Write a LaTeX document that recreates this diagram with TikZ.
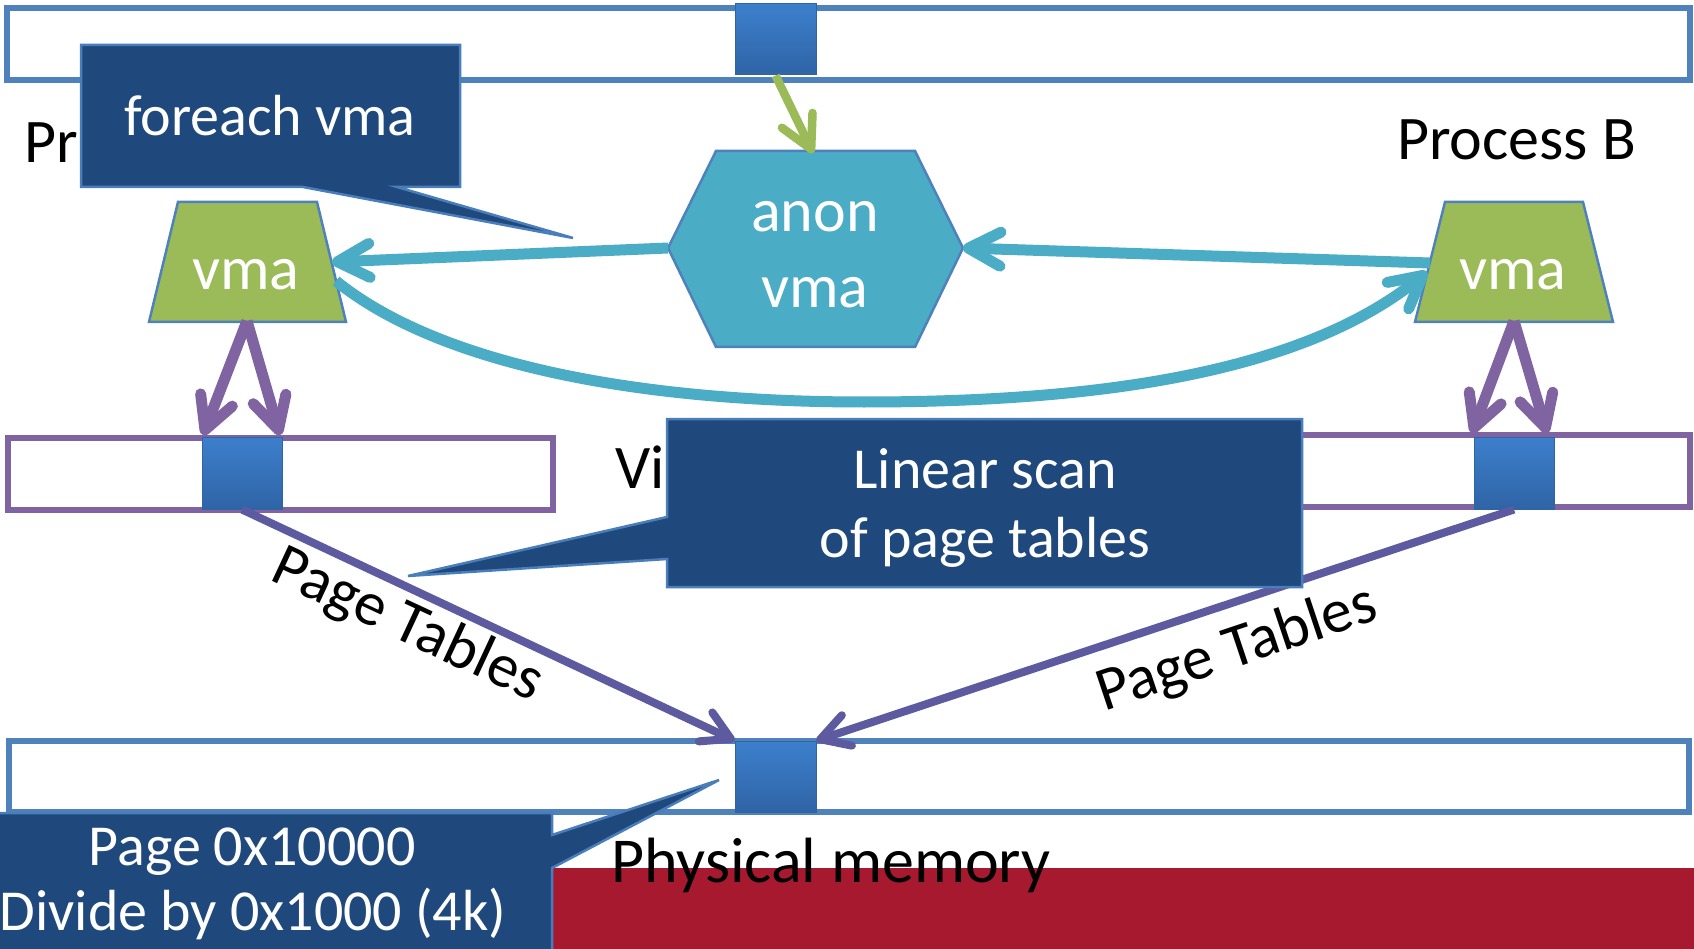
\documentclass[tikz,border=0pt]{standalone}
\usepackage{fontspec}
\setmainfont{Carlito}
\usetikzlibrary{arrows.meta}
\definecolor{barblue}{HTML}{4F81BD}
\definecolor{calfill}{HTML}{1F497D}
\definecolor{caledge}{HTML}{4A7EBB}
\definecolor{vmagreen}{HTML}{9BBB59}
\definecolor{anoncyan}{HTML}{4BACC6}
\definecolor{ptpurple}{HTML}{8064A2}
\definecolor{ptdark}{HTML}{5D5A9F}
\definecolor{memred}{HTML}{A6192E}
\definecolor{sqtop}{HTML}{3D7FCC}
\definecolor{sqbot}{HTML}{2F64A6}
\newcommand\myFontL{\fontsize{62}{75}\selectfont}
\newcommand\myFontC{\fontsize{58}{70}\selectfont}
\newcommand\myFontP{\fontsize{64}{77}\selectfont}
\tikzset{
  membar/.style={draw=barblue, line width=6pt, fill=white},
  vbar/.style={draw=ptpurple, line width=6pt, fill=white},
  pagesq/.style={top color=sqtop, bottom color=sqbot, draw=sqbot, line width=1pt, inner sep=0pt, minimum width=80pt, minimum height=72pt},
  shapeedge/.style={draw=barblue, line width=2.5pt},
  callout/.style={fill=calfill, draw=caledge, line width=2.5pt, line join=miter},
  wtext/.style={text=white, inner sep=0pt},
  btext/.style={text=black, inner sep=0pt},
  barbtip/.style={-{Straight Barb[length=32pt,width=34pt,round]}},
  cyanarrow/.style={draw=anoncyan, line width=11pt, barbtip},
  purplearrow/.style={draw=ptpurple, line width=11pt, barbtip},
  ptline/.style={draw=ptdark, line width=8pt, -{Straight Barb[length=28pt,width=32pt,round]}},
  greenarrow/.style={draw=vmagreen, line width=8.5pt, barbtip},
}
\begin{document}
\begin{tikzpicture}[x=1pt,y=-1pt]
\clip (0,0) rectangle (1694,949);
\fill[white] (0,0) rectangle (1694,949);

% red band
\fill[memred] (552,868) rectangle (1694,949);

% memory bars
\draw[membar] (7,8) rectangle (1690,80);
\draw[vbar] (8,438) rectangle (553,510);
\draw[vbar] (1145,435) rectangle (1690,507);
\draw[membar] (9,741) rectangle (1689,812);

% pages
\node[pagesq, minimum width=81pt, minimum height=71pt] (topsq) at (775.5,39.5) {};
\node[pagesq] (leftsq) at (242,473) {};
\node[pagesq] (rightsq) at (1514,473) {};
\node[pagesq, minimum width=81pt, minimum height=71pt] (botsq) at (775.5,776.5) {};

% vma shapes
\fill[vmagreen] (178,202) -- (317,202) -- (346,322) -- (149,322) -- cycle;
\draw[shapeedge] (178,202) -- (317,202) -- (346,322) -- (149,322) -- cycle;
\fill[vmagreen] (1445,202) -- (1583,202) -- (1613,322) -- (1415,322) -- cycle;
\draw[shapeedge] (1445,202) -- (1583,202) -- (1613,322) -- (1415,322) -- cycle;
\fill[anoncyan] (668,248) -- (716,151) -- (915,151) -- (963,248) -- (915,347) -- (716,347) -- cycle;
\draw[shapeedge] (668,248) -- (716,151) -- (915,151) -- (963,248) -- (915,347) -- (716,347) -- cycle;

\node[wtext, anchor=base, font=\myFontL] (vmaA) at (246,290) {vma};
\node[wtext, anchor=base, font=\myFontL] (vmaB) at (1513,290) {vma};
\node[wtext, anchor=base, font=\myFontL] (anon1) at (815,232) {anon};
\node[wtext, anchor=base, font=\myFontL] (anon2) at (815,308) {vma};

% connector end points
\coordinate (hexL) at (668,248);
\coordinate (hexR) at (963,248);
\coordinate (hexT) at (813,153);
\coordinate (vmaAr) at (332,262);
\coordinate (vmaAc) at (336,281);
\coordinate (vmaBl) at (1430,263);
\coordinate (vmaBc) at (1427,272);
\coordinate (vmaAb) at (247,321);
\coordinate (vmaBb) at (1514,321);
\coordinate (lsq1) at (203,435);
\coordinate (lsq2) at (280,435);
\coordinate (rsq1) at (1472,433);
\coordinate (rsq2) at (1547,433);

% arrows
\draw[greenarrow] (topsq.south) -- (hexT);
\draw[cyanarrow] (hexL) -- (vmaAr);
\draw[cyanarrow] (vmaBl) -- (hexR);
\draw[cyanarrow] (vmaAc) .. controls (440,365) and (640,402) .. (864,402)
  .. controls (1090,402) and (1300,375) .. (vmaBc);
\draw[purplearrow] (vmaAb) -- (lsq1);
\draw[purplearrow] (vmaAb) -- (lsq2);
\draw[purplearrow] (vmaBb) -- (rsq1);
\draw[purplearrow] (vmaBb) -- (rsq2);
\draw[ptline] (leftsq.south) -- (botsq.north west);
\draw[ptline] (rightsq.south) -- (botsq.north east);

% labels
\node[btext, anchor=base west, font=\myFontL] (procA) at (24,163) {Pr};
\node[btext, anchor=base west, font=\myFontL] (procB) at (1397,160) {Process B};
\node[btext, anchor=base west, font=\myFontL] (virt) at (615,488) {Vi};
\node[btext, font=\myFontL, rotate=-25] (ptA) at (407,626) {Page Tables};
\node[btext, font=\myFontL, rotate=18.5] (ptB) at (1237,650) {Page Tables};
\node[btext, anchor=base west, font=\myFontP] (phys) at (611,882) {Physical memory};

% callouts
\draw[callout] (81,45) -- (460,45) -- (460,187) -- (397,187) -- (573,238) -- (303,187) -- (81,187) -- cycle;
\node[wtext, anchor=base, font=\myFontC] (foreach) at (270,136) {foreach vma};

\draw[callout] (667,419) -- (1302,419) -- (1302,587) -- (667,587) -- (667,559) -- (408,576) -- (667,517) -- cycle;
\node[wtext, anchor=base, font=\myFontC] (lin1) at (985,488) {Linear scan};
\node[wtext, anchor=base, font=\myFontC] (lin2) at (985,557) {of page tables};

\draw[callout] (-50,813) -- (552,813) -- (552,835) -- (719,780) -- (552,868) -- (552,970) -- (-50,970) -- cycle;
\node[wtext, anchor=base, font=\myFontC] (pg1) at (252,865) {Page 0x10000};
\node[wtext, anchor=base, font=\myFontC] (pg2) at (253,930) {Divide by 0x1000 (4k)};
\end{tikzpicture}
\end{document}
